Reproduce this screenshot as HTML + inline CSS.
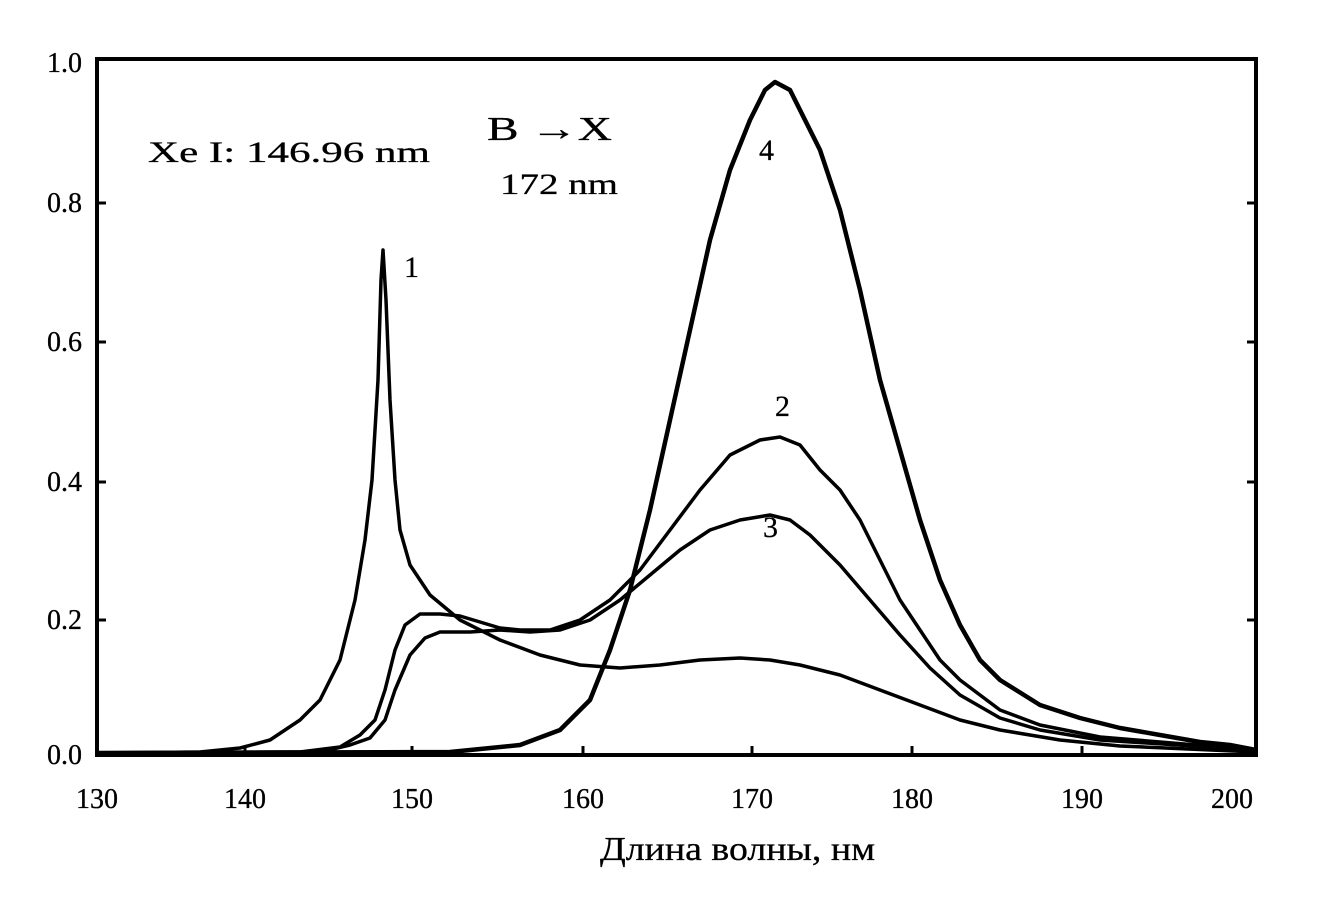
<!DOCTYPE html>
<html><head><meta charset="utf-8"><style>
html,body{margin:0;padding:0;background:#fff;}
svg{display:block;}
text{font-family:"Liberation Serif",serif;stroke:#000;stroke-width:0.3;fill:#000;}
</style></head><body>
<svg width="1337" height="899" viewBox="0 0 1337 899">
<rect x="97" y="59" width="1159" height="696" fill="none" stroke="#000" stroke-width="4"/>
<g stroke="#000" stroke-width="3">
<line x1="97" y1="203" x2="106" y2="203"/><line x1="97" y1="342" x2="106" y2="342"/><line x1="97" y1="482" x2="106" y2="482"/><line x1="97" y1="620" x2="106" y2="620"/>
<line x1="1256" y1="203" x2="1247" y2="203"/><line x1="1256" y1="342" x2="1247" y2="342"/><line x1="1256" y1="482" x2="1247" y2="482"/><line x1="1256" y1="620" x2="1247" y2="620"/>
<line x1="245" y1="755" x2="245" y2="746"/><line x1="412" y1="755" x2="412" y2="746"/><line x1="583" y1="755" x2="583" y2="746"/><line x1="752" y1="755" x2="752" y2="746"/><line x1="912" y1="755" x2="912" y2="746"/><line x1="1082" y1="755" x2="1082" y2="746"/>
</g>
<g font-size="28" text-anchor="end">
<text x="82" y="72">1.0</text><text x="82" y="212">0.8</text><text x="82" y="351">0.6</text><text x="82" y="491">0.4</text><text x="82" y="629">0.2</text><text x="82" y="764">0.0</text>
</g>
<g font-size="28" text-anchor="middle">
<text x="97" y="808">130</text><text x="245" y="808">140</text><text x="412" y="808">150</text><text x="583" y="808">160</text><text x="752" y="808">170</text><text x="912" y="808">180</text><text x="1082" y="808">190</text><text x="1232" y="808">200</text>
</g>
<text x="600" y="860" font-size="34" textLength="275" lengthAdjust="spacingAndGlyphs">Длина волны, нм</text>
<text x="148" y="162" font-size="30" textLength="282" lengthAdjust="spacingAndGlyphs">Xe  I:  146.96 nm</text>
<text x="487" y="140" font-size="34" textLength="125" lengthAdjust="spacingAndGlyphs">B →X</text>
<text x="500" y="194" font-size="30" textLength="118" lengthAdjust="spacingAndGlyphs">172 nm</text>
<g font-size="30"><text x="404" y="277">1</text><text x="759" y="160">4</text><text x="775" y="416">2</text><text x="763" y="537">3</text></g>
<g fill="none" stroke="#000" stroke-linejoin="round">
<polyline stroke-width="4.5" points="97,753 450,752 520,745 560,730 590,700 610,650 630,590 650,510 670,420 690,330 710,240 730,170 750,120 765,90 775,82 790,90 800,110 820,150 840,210 860,290 880,380 900,450 920,520 940,580 960,625 980,660 1000,680 1040,705 1080,718 1120,728 1160,735 1200,742 1230,745 1256,750"/>
<polyline stroke-width="3.5" points="97,753 300,752 340,747 360,735 375,720 385,690 395,650 405,625 420,614 440,614 460,616 480,622 500,628 520,630 550,630 580,620 610,600 640,570 670,530 700,490 730,455 760,440 780,437 800,445 820,470 840,490 860,520 880,560 900,600 920,630 940,660 960,680 980,695 1000,710 1040,725 1100,737 1160,742 1256,750"/>
<polyline stroke-width="3.5" points="97,753 320,752 350,745 370,738 385,720 395,690 410,655 425,638 440,632 470,632 500,630 530,632 560,630 590,620 620,600 650,575 680,550 710,530 740,520 770,515 790,520 810,535 840,565 870,600 900,635 930,668 960,695 1000,718 1040,730 1100,740 1256,750"/>
<polyline stroke-width="3.5" points="97,753 200,752 240,748 270,740 300,720 320,700 340,660 355,600 365,540 372,480 378,380 381,280 383,250 386,300 390,400 395,480 400,530 410,565 430,595 460,620 500,640 540,655 580,665 620,668 660,665 700,660 740,658 770,660 800,665 840,675 880,690 920,705 960,720 1000,730 1060,740 1120,746 1256,752"/>
</g>
</svg>
</body></html>
